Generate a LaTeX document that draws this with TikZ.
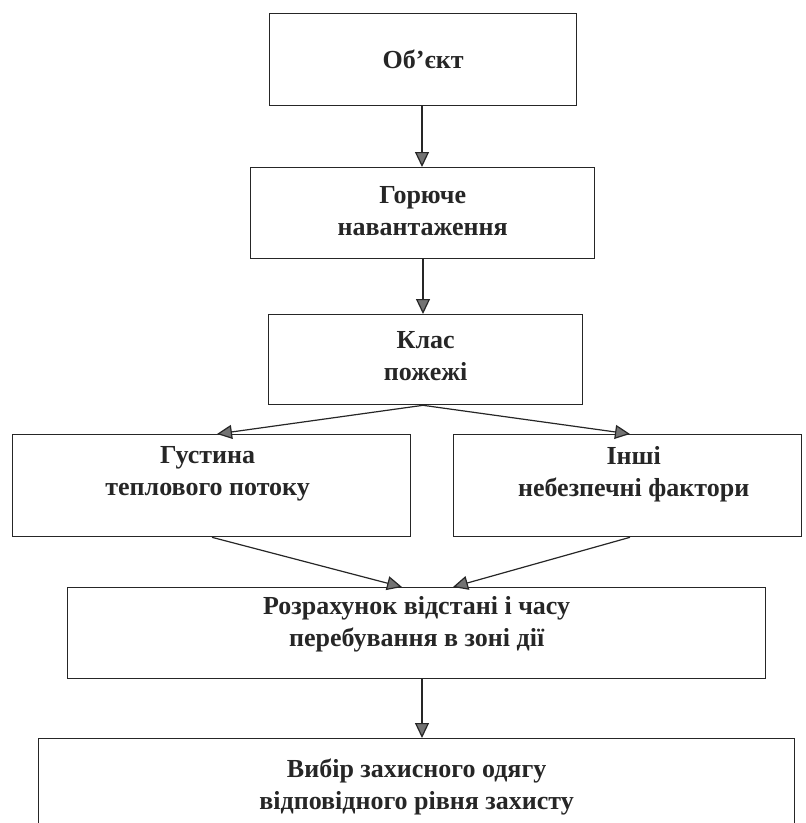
\documentclass[tikz,border=0pt]{standalone}
\usepackage{fontspec}
\setmainfont{Liberation Serif}
\usetikzlibrary{arrows.meta,calc}
\tikzset{
  box/.style={draw=black!85, line width=1.3pt, anchor=north west, inner sep=0pt,
    font=\fontsize{26}{32}\selectfont\bfseries, align=center, text=black!85},
  arr/.style={draw=black!85, line width=1.2pt,
    -{Triangle[length=15pt,width=14pt,fill=black!55]}},
}
\begin{document}
\begin{tikzpicture}[x=1pt,y=-1pt]
\useasboundingbox (0,0) rectangle (806,823);
\clip (0,0) rectangle (806,823);
% boxes
\node[box, minimum width=307pt, minimum height=92pt] (b1) at (269,13) {};
\node[box, minimum width=344pt, minimum height=91pt] (b2) at (250,167) {};
\node[box, minimum width=314pt, minimum height=90pt] (b3) at (268,314) {};
\node[box, minimum width=398pt, minimum height=102pt] (b4) at (12,434) {};
\node[box, minimum width=348pt, minimum height=102pt] (b5) at (453,434) {};
\node[box, minimum width=698pt, minimum height=91pt] (b6) at (67,587) {};
\node[box, minimum width=756pt, minimum height=120pt] (b7) at (38,738) {};
% texts
\node[box, draw=none, anchor=center] (t1) at ([yshift=-46pt]b1.north) {Об’єкт};
\node[box, draw=none, anchor=center] (t2) at ([yshift=-44pt]b2.north) {Горюче\\навантаження};
\node[box, draw=none, anchor=center] (t3) at ([yshift=-42pt]b3.north) {Клас\\пожежі};
\node[box, draw=none, anchor=center] (t4) at ([yshift=-40pt,xshift=-4pt]b4.north) {Густина\\теплового потоку};
\node[box, draw=none, anchor=center] (t5) at ([yshift=-40pt,xshift=6pt]b5.north) {Інші\\небезпечні фактори};
\node[box, draw=none, anchor=center] (t6) at ([yshift=-37pt]b6.north) {Розрахунок відстані і часу\\перебування в зоні дії};
\node[box, draw=none, anchor=center] (t7) at ([yshift=-49pt]b7.north) {Вибір захисного одягу\\відповідного рівня захисту};
% connectors
\draw[arr] ([xshift=153pt]b1.south west) -- ([xshift=172pt]b2.north west);
\draw[arr] ([xshift=173pt]b2.south west) -- ([xshift=155pt]b3.north west);
\draw[arr] ([xshift=155pt]b3.south west) -- ([xshift=205pt]b4.north west);
\draw[arr] ([xshift=155pt]b3.south west) -- ([xshift=177pt]b5.north west);
\draw[arr] ([xshift=200pt]b4.south west) -- ([xshift=335pt]b6.north west);
\draw[arr] ([xshift=177pt]b5.south west) -- ([xshift=386pt]b6.north west);
\draw[arr] ([xshift=355pt]b6.south west) -- ([xshift=384pt]b7.north west);
\end{tikzpicture}
\end{document}
